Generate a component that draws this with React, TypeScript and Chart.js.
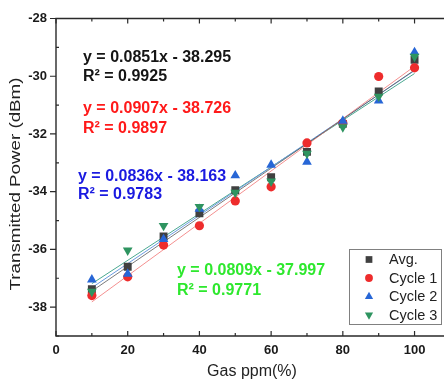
import { useEffect, useRef } from "react";
import { Chart, registerables } from "chart.js";
import { drawPoint } from "chart.js/helpers";

Chart.register(...registerables);

// ---- data ----
const gasPpm = [10, 20, 30, 40, 50, 60, 70, 80, 90, 100];
const avgPower = [-37.38, -36.6, -35.55, -34.75, -33.95, -33.5, -32.62, -31.65, -30.53, -29.43];
const cycle1Power = [-37.6, -36.95, -35.85, -35.18, -34.32, -33.83, -32.31, -31.62, -30.01, -29.71];
const cycle2Power = [-37.05, -36.85, -35.65, -34.6, -33.44, -33.07, -32.97, -31.55, -30.85, -29.17];
const cycle3Power = [-37.46, -36.03, -35.18, -34.52, -34.03, -33.64, -32.68, -31.76, -30.7, -29.32];

// linear fits (end points of the printed trend lines)
const fitX = [10, 100];
const avgFit = [-37.444, -29.785];
const cycle1Fit = [-37.819, -29.656];
const cycle2Fit = [-37.327, -29.803];
const cycle3Fit = [-37.188, -29.907];

const seriesNames = ["Avg.", "Cycle 1", "Cycle 2", "Cycle 3"];
const xTicks = [0, 20, 40, 60, 80, 100];
const xMinorTicks = [10, 30, 50, 70, 90];
const yTicks = [-38, -36, -34, -32, -30, -28];
const yMinorTicks = [-39, -37, -35, -33, -31, -29];

const equationLines = [
  "y = 0.0851x - 38.295",
  "R\u00B2 = 0.9925",
  "y = 0.0907x - 38.726",
  "R\u00B2 = 0.9897",
  "y = 0.0836x - 38.163",
  "R\u00B2 = 0.9783",
  "y = 0.0809x - 37.997",
  "R\u00B2 = 0.9771",
];

// ---- styles ----
const markerColors = ["#404040", "#ee2c2c", "#2766d6", "#2e9460"];
const fitColors = ["rgba(90,90,90,0.8)", "#f49090", "#6a9ade", "#4aa890"];
const markerStyles = ["rect", "circle", "triangle", "triangle"];
const markerRotations = [0, 0, 0, 180];
const markerRadii = [5.6, 4.6, 5.6, 5.6];
const eqColors = ["#151515", "#ff1a1a", "#1a1ae0", "#2ee82e"];
const eqPos = [
  [83, 58],
  [83, 77],
  [83, 109],
  [83, 129],
  [78, 177],
  [78, 195],
  [177, 271],
  [177, 291],
];

const W = 480;
const H = 385;
const FONT = '"Liberation Sans", Arial, sans-serif';

const decorPlugin = {
  id: "decor",
  afterDatasetsDraw(chart: any) {
    const { ctx, chartArea: a, scales } = chart;
    const xs = scales.x;
    const ys = scales.y;
    ctx.save();
    // frame
    ctx.strokeStyle = "#2a2a2a";
    ctx.lineWidth = 1.4;
    ctx.beginPath();
    ctx.moveTo(a.left, a.top);
    ctx.lineTo(a.right, a.top);
    ctx.lineTo(a.right, a.bottom);
    ctx.lineTo(a.left, a.bottom);
    ctx.closePath();
    ctx.stroke();

    ctx.lineWidth = 1.2;
    ctx.beginPath();
    // y major ticks outward
    for (const v of yTicks) {
      const p = ys.getPixelForValue(v);
      ctx.moveTo(a.left - 6, p);
      ctx.lineTo(a.left, p);
    }
    for (const v of yMinorTicks) {
      const p = ys.getPixelForValue(v);
      ctx.moveTo(a.left, p);
      ctx.lineTo(a.left + 3, p);
    }
    // x ticks inward (bottom and top)
    for (const v of xTicks) {
      const p = xs.getPixelForValue(v);
      ctx.moveTo(p, a.bottom);
      ctx.lineTo(p, a.bottom - 5);
      ctx.moveTo(p, a.top);
      ctx.lineTo(p, a.top + 5);
    }
    for (const v of xMinorTicks) {
      const p = xs.getPixelForValue(v);
      ctx.moveTo(p, a.bottom);
      ctx.lineTo(p, a.bottom - 3);
      ctx.moveTo(p, a.top);
      ctx.lineTo(p, a.top + 3);
    }
    ctx.stroke();

    // tick labels
    ctx.fillStyle = "#1a1a1a";
    ctx.font = `bold 13px ${FONT}`;
    ctx.textAlign = "right";
    ctx.textBaseline = "middle";
    for (const v of yTicks) {
      ctx.fillText(String(v), a.left - 9, ys.getPixelForValue(v));
    }
    ctx.textAlign = "center";
    for (const v of xTicks) {
      ctx.fillText(String(v), xs.getPixelForValue(v), a.bottom + 14);
    }

    // axis titles
    ctx.font = `16px ${FONT}`;
    ctx.fillStyle = "#222";
    ctx.fillText("Gas ppm(%)", 252, 372);
    ctx.save();
    ctx.translate(16, 184);
    ctx.rotate(-Math.PI / 2);
    ctx.scale(1.25, 1);
    ctx.font = `15px ${FONT}`;
    ctx.fillText("Transmitted Power (dBm)", 0, 0);
    ctx.restore();

    // equations
    ctx.font = `bold 16px ${FONT}`;
    ctx.textAlign = "left";
    equationLines.forEach((t, i) => {
      ctx.fillStyle = eqColors[Math.floor(i / 2)];
      ctx.fillText(t, eqPos[i][0], eqPos[i][1]);
    });

    // legend
    const lx = 349, ly = 249, lw = 92, lh = 75;
    ctx.fillStyle = "#fff";
    ctx.fillRect(lx, ly, lw, lh);
    ctx.strokeStyle = "#808080";
    ctx.lineWidth = 1;
    ctx.strokeRect(lx + 0.5, ly + 0.5, lw, lh);
    ctx.font = `14.5px ${FONT}`;
    seriesNames.forEach((name, i) => {
      const cy = ly + 10.5 + i * 18.5;
      ctx.fillStyle = markerColors[i];
      ctx.strokeStyle = markerColors[i];
      drawPoint(ctx, {
        pointStyle: markerStyles[i],
        radius: markerRadii[i] * 0.85,
        rotation: markerRotations[i],
        borderWidth: 0,
      } as any, lx + 20, cy);
      ctx.fillStyle = "#222";
      ctx.fillText(name, lx + 40, cy + 0.5);
    });

    ctx.restore();
  },
};

export default function App() {
  const ref = useRef<HTMLCanvasElement>(null);
  useEffect(() => {
    if (!ref.current) return;
    const pointSets = [avgPower, cycle1Power, cycle2Power, cycle3Power];
    const fitSets = [avgFit, cycle1Fit, cycle2Fit, cycle3Fit];
    const datasets: any[] = [];
    fitSets.forEach((f, i) => {
      datasets.push({
        type: "line",
        label: seriesNames[i] + " fit",
        data: fitX.map((x, j) => ({ x, y: f[j] })),
        borderColor: fitColors[i],
        borderWidth: 1,
        pointRadius: 0,
        fill: false,
        order: 10,
      });
    });
    pointSets.forEach((s, i) => {
      datasets.push({
        type: "scatter",
        label: seriesNames[i],
        data: gasPpm.map((x, j) => ({ x, y: s[j] })),
        backgroundColor: markerColors[i],
        borderColor: markerColors[i],
        borderWidth: 0,
        pointStyle: markerStyles[i],
        pointRotation: markerRotations[i],
        pointRadius: markerRadii[i],
        order: 4 - i,
      });
    });
    const chart = new Chart(ref.current, {
      type: "scatter",
      data: { datasets },
      options: {
        responsive: false,
        animation: false,
        devicePixelRatio: 1,
        layout: { padding: { left: 56, right: W - 450.4, top: 18.5, bottom: H - 336 } },
        plugins: { legend: { display: false }, tooltip: { enabled: false } },
        scales: {
          x: { type: "linear", min: 0, max: 110, display: false },
          y: { type: "linear", min: -39, max: -28, display: false },
        },
      },
      plugins: [decorPlugin],
    } as any);
    return () => chart.destroy();
  }, []);
  return (
    <div
      style={{
        position: "fixed",
        left: 0,
        top: 0,
        width: 444,
        height: 385,
        overflow: "hidden",
        background: "#fff",
      }}
    >
      <canvas ref={ref} width={W} height={H} style={{ display: "block", width: W, height: H }} />
    </div>
  );
}
